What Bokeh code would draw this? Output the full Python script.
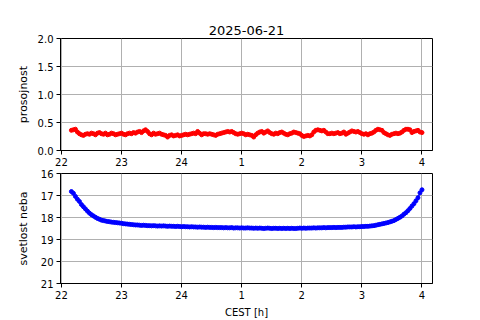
from bokeh.plotting import figure
from bokeh.layouts import column
from bokeh.models import Range1d, FixedTicker, PrintfTickFormatter
from bokeh.embed import file_html
from bokeh.resources import INLINE

title_text = "2025-06-21"
x_ticks = [22, 23, 24, 25, 26, 27, 28]
x_tick_labels = ["22", "23", "24", "1", "2", "3", "4"]
y1_ticks = [0.0, 0.5, 1.0, 1.5, 2.0]
y2_ticks = [16, 17, 18, 19, 20, 21]

# sample times: 22:10 .. 04:00 (hours, continuing past 24), every 2 minutes
hours = [22 + (10 + 2 * i) / 60 for i in range(176)]

prosojnost = [
    0.36, 0.37, 0.38, 0.33, 0.30, 0.28, 0.27, 0.29, 0.30, 0.29, 0.31, 0.30, 0.28, 0.31, 0.32,
    0.30, 0.29, 0.31, 0.28, 0.29, 0.31, 0.30, 0.28, 0.29, 0.30, 0.31, 0.29, 0.28, 0.30, 0.31,
    0.30, 0.32, 0.31, 0.33, 0.34, 0.32, 0.35, 0.37, 0.34, 0.30, 0.28, 0.31, 0.29, 0.30, 0.31,
    0.29, 0.28, 0.27, 0.24, 0.27, 0.28, 0.26, 0.27, 0.28, 0.26, 0.27, 0.28, 0.29, 0.28, 0.29,
    0.30, 0.31, 0.30, 0.34, 0.31, 0.28, 0.30, 0.30, 0.29, 0.30, 0.29, 0.28, 0.27, 0.29, 0.30,
    0.31, 0.32, 0.33, 0.34, 0.33, 0.34, 0.32, 0.30, 0.29, 0.30, 0.31, 0.30, 0.28, 0.29, 0.28,
    0.27, 0.24, 0.28, 0.31, 0.33, 0.34, 0.31, 0.33, 0.35, 0.32, 0.30, 0.29, 0.31, 0.30, 0.32,
    0.33, 0.31, 0.29, 0.28, 0.30, 0.31, 0.33, 0.32, 0.31, 0.30, 0.27, 0.25, 0.26, 0.27, 0.26,
    0.28, 0.33, 0.36, 0.37, 0.36, 0.35, 0.36, 0.33, 0.30, 0.30, 0.31, 0.30, 0.31, 0.32, 0.30,
    0.31, 0.33, 0.29, 0.31, 0.33, 0.35, 0.34, 0.33, 0.34, 0.32, 0.30, 0.29, 0.30, 0.28, 0.30,
    0.31, 0.33, 0.36, 0.38, 0.37, 0.36, 0.32, 0.30, 0.28, 0.27, 0.29, 0.30, 0.31, 0.30, 0.31,
    0.33, 0.36, 0.38, 0.38, 0.37, 0.32, 0.34, 0.35, 0.36, 0.33, 0.32,
]

svetlost_neba = [
    16.82, 16.90, 17.04, 17.17, 17.27, 17.41, 17.51, 17.61, 17.71, 17.80, 17.87, 17.93, 17.99, 18.04, 18.08,
    18.12, 18.14, 18.16, 18.18, 18.19, 18.21, 18.22, 18.23, 18.24, 18.25, 18.26, 18.28, 18.29, 18.30, 18.31,
    18.32, 18.33, 18.34, 18.34, 18.35, 18.36, 18.35, 18.36, 18.37, 18.37, 18.38, 18.37, 18.38, 18.39, 18.38,
    18.39, 18.38, 18.39, 18.40, 18.39, 18.40, 18.40, 18.41, 18.40, 18.41, 18.42, 18.41, 18.42, 18.42, 18.43,
    18.42, 18.43, 18.43, 18.44, 18.43, 18.44, 18.44, 18.45, 18.44, 18.45, 18.45, 18.46, 18.45, 18.46, 18.46,
    18.46, 18.47, 18.46, 18.47, 18.47, 18.46, 18.48, 18.47, 18.47, 18.48, 18.47, 18.48, 18.48, 18.47, 18.48,
    18.48, 18.49, 18.48, 18.49, 18.48, 18.49, 18.50, 18.49, 18.48, 18.49, 18.50, 18.49, 18.49, 18.50, 18.49,
    18.50, 18.49, 18.50, 18.49, 18.50, 18.49, 18.50, 18.50, 18.49, 18.48, 18.49, 18.48, 18.49, 18.48, 18.48,
    18.48, 18.47, 18.48, 18.47, 18.47, 18.47, 18.46, 18.47, 18.46, 18.46, 18.46, 18.45, 18.46, 18.45, 18.45,
    18.45, 18.44, 18.44, 18.43, 18.43, 18.43, 18.42, 18.43, 18.42, 18.42, 18.41, 18.41, 18.40, 18.40, 18.39,
    18.38, 18.37, 18.35, 18.33, 18.31, 18.29, 18.27, 18.25, 18.23, 18.20, 18.17, 18.14, 18.09, 18.04, 17.99,
    17.93, 17.85, 17.78, 17.69, 17.59, 17.48, 17.37, 17.24, 17.10, 16.88, 16.74,
]

FONT = "DejaVu Sans"
TXT = "#000000"
GRID = "#b0b0b0"


def style(p, yticks):
    p.background_fill_color = "white"
    p.border_fill_color = "white"
    p.outline_line_color = "black"
    p.outline_line_width = 1
    p.outline_line_alpha = 1
    for ax in (p.xaxis[0], p.yaxis[0]):
        ax.major_label_text_font = FONT
        ax.major_label_text_font_size = "10px"
        ax.major_label_text_color = TXT
        ax.axis_label_text_font = FONT
        ax.axis_label_text_font_style = "normal"
        ax.axis_label_text_color = TXT
        ax.axis_line_color = "black"
        ax.major_tick_line_color = "black"
        ax.major_tick_in = 0
        ax.major_tick_out = 4
        ax.minor_tick_line_color = None
        ax.major_label_standoff = 3
    p.xaxis[0].ticker = FixedTicker(ticks=x_ticks)
    p.xaxis[0].major_label_overrides = dict(zip(x_ticks, x_tick_labels))
    p.yaxis[0].ticker = FixedTicker(ticks=yticks)
    p.yaxis[0].axis_label_text_font_size = "11px"
    p.xgrid.grid_line_color = GRID
    p.ygrid.grid_line_color = GRID
    p.xgrid.grid_line_width = 1
    p.ygrid.grid_line_width = 1


p1 = figure(width=480, height=168, output_backend="svg", toolbar_location=None,
            x_range=Range1d(21.985, 28.175), y_range=Range1d(0, 2.0),
            min_border_left=60, min_border_right=48, min_border_top=38, min_border_bottom=18,
            title=title_text)
style(p1, y1_ticks)
p1.yaxis[0].formatter = PrintfTickFormatter(format="%.1f")
p1.yaxis[0].axis_label = "prosojnost"
p1.yaxis[0].axis_label_standoff = 5
p1.title.align = "center"
p1.title.text_font = FONT
p1.title.text_font_size = "13px"
p1.title.text_font_style = "normal"
p1.title.text_color = TXT
p1.title.standoff = 8
p1.line(hours, prosojnost, line_color="#ff0000", line_width=1.2)
p1.scatter(hours, prosojnost, marker="circle", size=4, fill_color="#ff0000", line_color="#ff0000")

p2 = figure(width=480, height=152, output_backend="svg", toolbar_location=None,
            x_range=Range1d(21.985, 28.175), y_range=Range1d(21, 16),
            min_border_left=60, min_border_right=48, min_border_top=5, min_border_bottom=35)
style(p2, y2_ticks)
p2.yaxis[0].axis_label = "svetlost neba"
p2.yaxis[0].axis_label_standoff = 8
p2.xaxis[0].axis_label = "CEST [h]"
p2.xaxis[0].axis_label_text_font_size = "10px"
p2.xaxis[0].axis_label_standoff = 5
p2.line(hours, svetlost_neba, line_color="#0000ff", line_width=1.2)
p2.scatter(hours, svetlost_neba, marker="circle", size=4, fill_color="#0000ff", line_color="#0000ff")

layout = column(p1, p2)
open("out.html", "w").write(file_html(layout, INLINE))
